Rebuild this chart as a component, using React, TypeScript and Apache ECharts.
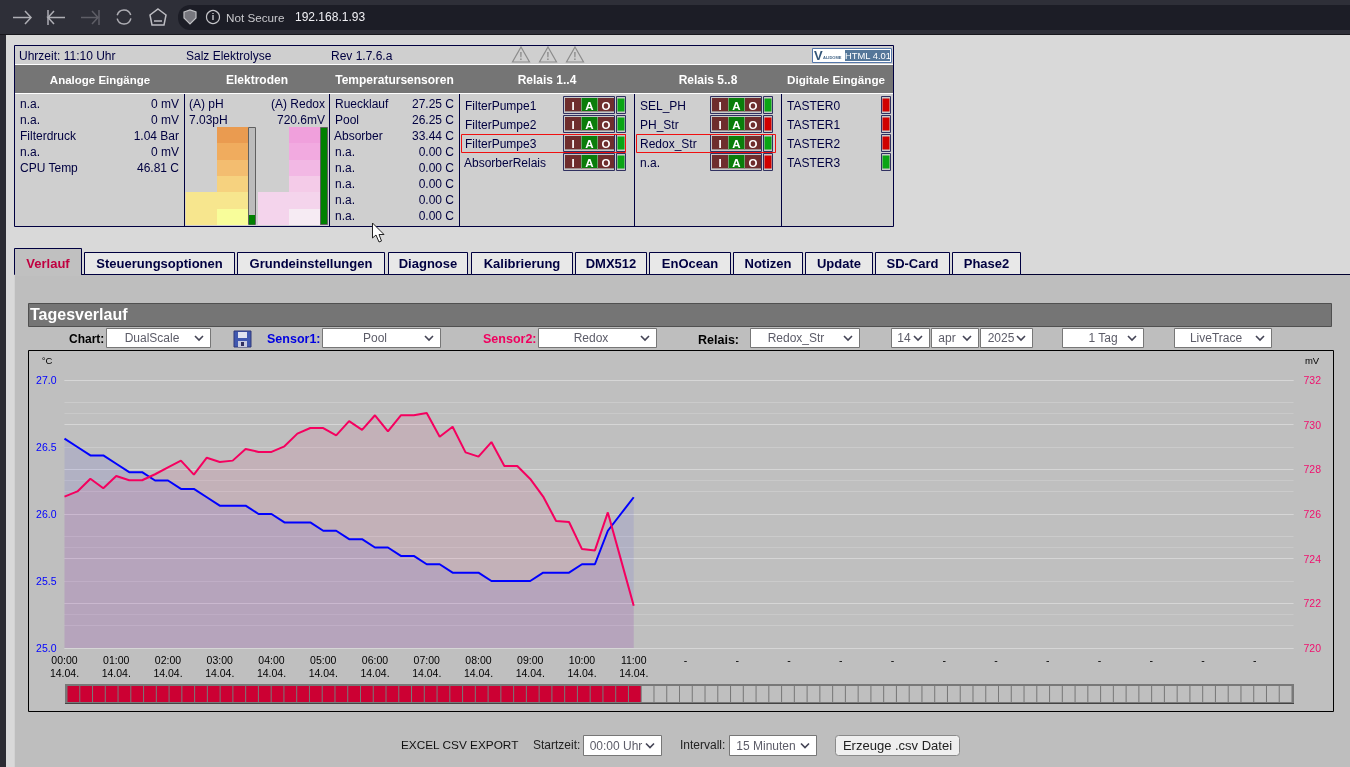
import React, { useEffect, useRef } from "react";
import * as echarts from "echarts";

// ---------- chart data ----------
const poolTemps = [
  26.5625, 26.5, 26.4375, 26.4375, 26.375, 26.3125, 26.3125, 26.25, 26.25, 26.1875, 26.1875, 26.125,
  26.0625, 26.0625, 26.0625, 26.0, 26.0, 25.9375, 25.9375, 25.9375, 25.875, 25.875, 25.8125, 25.8125,
  25.75, 25.75, 25.6875, 25.6875, 25.625, 25.625, 25.5625, 25.5625, 25.5625, 25.5, 25.5, 25.5, 25.5,
  25.5625, 25.5625, 25.5625, 25.625, 25.625, 25.875, 26.0, 26.125,
];
const redoxMv = [
  726.78, 727.01, 727.58, 727.15, 727.7, 727.51, 727.51, 727.78, 728.09, 728.39, 727.76, 728.52,
  728.33, 728.39, 728.91, 728.78, 728.78, 729.03, 729.6, 729.85, 729.85, 729.52, 730.16, 729.77,
  730.42, 729.7, 730.42, 730.42, 730.52, 729.46, 729.91, 728.76, 728.57, 729.22, 728.15, 728.15,
  727.57, 726.78, 725.69, 725.64, 724.43, 724.37, 726.07, 723.98, 721.89,
];
const relayStates = [
  1, 1, 1, 1, 1, 1, 1, 1, 1, 1, 1, 1, 1, 1, 1, 1, 1, 1, 1, 1, 1, 1, 1, 1, 1, 1, 1, 1, 1, 1, 1, 1, 1, 1, 1, 1, 1, 1, 1, 1, 1, 1, 1, 1, 1,
  0, 0, 0, 0, 0, 0, 0, 0, 0, 0, 0, 0, 0, 0, 0, 0, 0, 0, 0, 0, 0, 0, 0, 0, 0, 0, 0, 0, 0, 0, 0, 0, 0, 0, 0, 0, 0, 0, 0, 0, 0, 0, 0, 0, 0, 0, 0, 0, 0, 0, 0,
];
const quarterHours = Array.from({ length: 96 }, (_, i) => {
  const h = String(Math.floor(i / 4)).padStart(2, "0");
  const m = String((i % 4) * 15).padStart(2, "0");
  return `${h}:${m}`;
});
const lastLabelledIndex = 44;
const dateLabel = "14.04.";

// ---------- page texts ----------
const analogNames = ["n.a.", "n.a.", "Filterdruck", "n.a.", "CPU Temp"];
const analogValues = ["0 mV", "0 mV", "1.04 Bar", "0 mV", "46.81 C"];
const tempNames = ["Ruecklauf", "Pool", "Absorber", "n.a.", "n.a.", "n.a.", "n.a.", "n.a."];
const tempValues = ["27.25 C", "26.25 C", "33.44 C", "0.00 C", "0.00 C", "0.00 C", "0.00 C", "0.00 C"];
const relays1 = ["FilterPumpe1", "FilterPumpe2", "FilterPumpe3", "AbsorberRelais"];
const relays1Led = [1, 1, 1, 1];
const relays2 = ["SEL_PH", "PH_Str", "Redox_Str", "n.a."];
const relays2Led = [1, 0, 1, 0];
const digital = ["TASTER0", "TASTER1", "TASTER2", "TASTER3"];
const digitalLed = [0, 0, 0, 1];
const tabs = ["Verlauf", "Steuerungsoptionen", "Grundeinstellungen", "Diagnose", "Kalibrierung", "DMX512", "EnOcean", "Notizen", "Update", "SD-Card", "Phase2"];
const tabEdges = [[14, 82], [84, 235], [237, 385], [388, 468], [471, 573], [575, 647], [649, 731], [733, 803], [805, 873], [875, 950], [952, 1021]];

const SANS = '"Liberation Sans"';
const NAVY = "#000040";
const Z = -1;

const T = (text: string, x: number, y: number, fill: string, font: string, align = "left") => ({
  type: "text", z: Z, silent: true,
  style: { text, x, y, fill, font: `${font} ${SANS}`, textAlign: align, align, textVerticalAlign: "middle", verticalAlign: "middle" },
});
const R = (x: number, y: number, w: number, h: number, fill: string, stroke?: string, lw = 1, r = 0) => ({
  type: "rect", z: Z, silent: true, shape: { x, y, width: w, height: h, r },
  style: { fill, stroke: stroke || "none", lineWidth: lw },
});
const L = (pts: number[][], stroke: string, lw = 1.5) => ({
  type: "polyline", z: Z, silent: true, shape: { points: pts }, style: { stroke, lineWidth: lw, fill: "none" },
});
const P = (pts: number[][], fill: string, stroke?: string, lw = 1) => ({
  type: "polygon", z: Z, silent: true, shape: { points: pts }, style: { fill, stroke: stroke || "none", lineWidth: lw },
});
const C = (cx: number, cy: number, r: number, stroke: string, lw = 1.5, fill = "none") => ({
  type: "circle", z: Z, silent: true, shape: { cx, cy, r }, style: { stroke, lineWidth: lw, fill },
});

function select(x0: number, x1: number, y0: number, y1: number, text: string, cx: number) {
  const ay = (y0 + y1) / 2;
  const ax = x1 - 12;
  return [
    R(x0 + 0.5, y0 + 0.5, x1 - x0 - 1, y1 - y0 - 1, "#ffffff", "#777777"),
    T(text, cx, ay, "#5c5c68", "12px", "center"),
    L([[ax - 4, ay - 2], [ax, ay + 2], [ax + 4, ay - 2]], "#444455", 1.6),
  ];
}

function relayRow(frameX: number, ledX: number, top: number, led: number) {
  const out: any[] = [R(frameX + 0.5, top + 0.5, 51, 17, "#c8c8c8", "#303060")];
  const cells: [number, string, string][] = [[0, "#6e2d2d", "I"], [16.5, "#0a7d0a", "A"], [33, "#6e2d2d", "O"]];
  cells.forEach(([dx, col, label]) => {
    out.push(R(frameX + 2 + dx, top + 2, 16, 14, col));
    out.push(L([[frameX + 2 + dx, top + 15.5], [frameX + 18 + dx, top + 15.5]], "#a09090", 1));
    out.push(T(label, frameX + 10 + dx, top + 9.5, "#ffffff", "bold 11.5px", "center"));
  });
  out.push(R(ledX + 0.5, top + 0.5, 9, 17, "#c8c8c8", "#303060"));
  out.push(R(ledX + 1.5, top + 2.5, 7, 13, led ? "#0aa514" : "#d00000"));
  return out;
}

function buildPage(): any[] {
  const g: any[] = [];
  // page base
  g.push(R(0, 0, 1350, 767, "#d9d9d9"));
  g.push(R(0, 0, 6, 767, "#2b2b33"));
  g.push(R(14, 274, 1336, 493, "#bebebe"));
  g.push(L([[14, 274.5], [1350, 274.5]], "#000030", 1));
  g.push(L([[14.5, 274], [14.5, 767]], "#d2d2d2", 1));
  // browser bar
  g.push(R(0, 0, 1350, 34, "#2e2f38"));
  g.push(R(0, 34, 1350, 1, "#17171c"));
  g.push(R(178, 5, 1250, 25, "#1c1d26", undefined, 1, 12));
  g.push(L([[13, 17.5], [31, 17.5]], "#aeaeb4"), L([[25, 11], [31, 17.5], [25, 24]], "#aeaeb4"));
  g.push(L([[48, 10], [48, 25]], "#aeaeb4"), L([[54, 11], [48, 17.5], [54, 24], [48, 17.5], [65, 17.5]], "#aeaeb4"));
  g.push(L([[99, 10], [99, 25]], "#5e5e66"), L([[92, 11], [98, 17.5], [92, 24], [98, 17.5], [81, 17.5]], "#5e5e66"));
  g.push({ type: "arc", z: Z, silent: true, shape: { cx: 124, cy: 17, r: 7, startAngle: 0.2, endAngle: 2.9 }, style: { stroke: "#aeaeb4", lineWidth: 1.5, fill: "none" } });
  g.push({ type: "arc", z: Z, silent: true, shape: { cx: 124, cy: 17, r: 7, startAngle: 3.4, endAngle: 6.0 }, style: { stroke: "#aeaeb4", lineWidth: 1.5, fill: "none" } });
  g.push(P([[158, 9], [166, 15], [164, 25], [152, 25], [150, 15]], "none", "#bdbdc2", 1.5));
  g.push(L([[154, 21], [162, 21]], "#bdbdc2", 1.5));
  g.push(P([[184, 12], [190, 10], [196, 12], [196, 18], [190, 24], [184, 18]], "#77777e", "#c0c0c4", 1.2));
  g.push(C(213, 17, 6.5, "#c4c4c8", 1.2));
  g.push(T("i", 213, 17, "#d4d4d8", "bold 9px", "center"));
  g.push(T("Not Secure", 226, 17, "#c8c8cc", "11.7px"));
  g.push(T("192.168.1.93", 295, 17, "#f0f0f4", "12px"));

  // status panel
  g.push(R(14.5, 45.5, 879, 181, "#cfcfcf", NAVY));
  g.push(R(15, 65, 878, 28, "#757575"));
  g.push(R(15, 64, 878, 1, "#ffffff"), R(15, 93, 878, 1, "#ffffff"));
  [184.5, 329.5, 459.5, 634.5, 781.5].forEach((x) => g.push(L([[x, 94], [x, 226]], NAVY, 1)));
  g.push(T("Uhrzeit: 11:10 Uhr", 19, 56, NAVY, "12px"));
  g.push(T("Salz Elektrolyse", 186, 56, NAVY, "12px"));
  g.push(T("Rev 1.7.6.a", 331, 56, NAVY, "12px"));
  [521, 548, 575].forEach((x) => {
    g.push(P([[x, 47], [x + 8.5, 62], [x - 8.5, 62]], "none", "#8c8c8c", 1.2));
    g.push(T("!", x, 56, "#8c8c8c", "bold 10px", "center"));
  });
  g.push(R(812.5, 48.5, 79, 14, "#ffffff", "#5577aa"));
  g.push(R(845, 50, 45, 11, "#557799"));
  g.push(T("HTML 4.01", 868, 55.5, "#ffffff", "9.4px", "center"));
  g.push(T("V", 814, 55, "#335577", "bold 13px"));
  g.push(T("ALIDOME", 823, 57.5, "#446688", "bold 4px"));
  ([["Analoge Eingänge", 100, 11.5], ["Elektroden", 257, 12], ["Temperatursensoren", 394.5, 12], ["Relais 1..4", 547, 12], ["Relais 5..8", 708, 12], ["Digitale Eingänge", 836, 11.7]] as [string, number, number][])
    .forEach(([t, x, s]) => g.push(T(t, x, 79.5, "#ffffff", `bold ${s}px`, "center")));

  const rowY = (i: number) => 104 + i * 16;
  analogNames.forEach((t, i) => g.push(T(t, 20, rowY(i), NAVY, "12px")));
  analogValues.forEach((t, i) => g.push(T(t, 179, rowY(i), NAVY, "12px", "right")));
  tempNames.forEach((t, i) => g.push(T(t, i === 2 ? 334 : 335, rowY(i), NAVY, "12px")));
  tempValues.forEach((t, i) => g.push(T(t, 454, rowY(i), NAVY, "12px", "right")));
  g.push(T("(A) pH", 189, 104, NAVY, "12px"), T("7.03pH", 189, 120, NAVY, "12px"));
  g.push(T("(A) Redox", 325, 104, NAVY, "12px", "right"), T("720.6mV", 325, 120, NAVY, "12px", "right"));

  // electrode level blocks
  const stepY = [127, 143, 160, 176, 192, 209, 225];
  const phCols = ["#ea9b50", "#f0ac5e", "#f3bd70", "#f6d27f", "#f7e68e", "#f8fd9a"];
  const rxCols = ["#f0a0dc", "#f2aae0", "#f2b8e4", "#f4cbe8", "#f4d4ec", "#f6ebf3"];
  phCols.forEach((c, i) => g.push(R(217, stepY[i], 31.5, stepY[i + 1] - stepY[i], c)));
  g.push(R(185.5, 192, 31.5, 33, "#f7e68e"));
  rxCols.forEach((c, i) => g.push(R(289, stepY[i], 31, stepY[i + 1] - stepY[i], c)));
  g.push(R(258, 192, 31, 33, "#f4d4ec"));
  g.push(R(248.5, 127.5, 7, 97, "#bcbcbc", "#606060"));
  g.push(R(249, 215, 6, 9.5, "#008000"));
  g.push(R(320.5, 127.5, 7, 97, "#008000", "#606060"));

  // relays
  const tops = [96, 115, 134, 153];
  relays1.forEach((t, i) => {
    g.push(T(t, i === 3 ? 464 : 465, tops[i] + 10, NAVY, "12px"));
    g.push(...relayRow(563, 616, tops[i], relays1Led[i]));
  });
  relays2.forEach((t, i) => {
    g.push(T(t, 640, tops[i] + 10, NAVY, "12px"));
    g.push(...relayRow(710, 763, tops[i], relays2Led[i]));
  });
  digital.forEach((t, i) => {
    g.push(T(t, 787, tops[i] + 10, NAVY, "12px"));
    g.push(R(881.5, tops[i] + 0.5, 9, 17, "#c8c8c8", "#303060"));
    g.push(R(882.5, tops[i] + 2.5, 7, 13, digitalLed[i] ? "#0aa514" : "#d00000"));
  });
  g.push(R(461.5, 134.5, 164, 18, "none", "#f01010"));
  g.push(R(636.5, 134.5, 139, 18, "none", "#f01010"));
  // mouse pointer
  g.push(P([[372.5, 223], [372.5, 238], [376, 235], [379, 242], [381.5, 241], [379, 234.5], [384, 234.5]], "#ffffff", "#222222", 1));

  // tabs
  tabs.forEach((t, i) => {
    const [a, b] = tabEdges[i];
    const active = i === 0;
    const top = active ? 248 : 252;
    g.push(R(a + 0.5, top + 0.5, b - a - 1, 274 - top, active ? "#c0c0c0" : "#e8e8e8", NAVY));
    g.push(T(t, (a + b) / 2, 263.5, active ? "#c00040" : NAVY, "bold 13px", "center"));
  });
  g.push(R(15, 274, 66, 2, "#c0c0c0"));

  // title bar
  g.push(R(28.5, 303.5, 1303, 23, "#757575", "#505050"));
  g.push(T("Tagesverlauf", 30, 314, "#ffffff", "bold 16px"));

  // controls
  g.push(T("Chart:", 69, 339, "#000000", "bold 12px"));
  g.push(...select(106, 211, 328, 348, "DualScale", 152));
  g.push(R(234, 331, 17, 16, "#4058b0", "#303878"), R(238, 332, 9, 6, "#dfe2f0"), R(238, 341, 9, 6, "#c8cce0"), R(241, 342, 3, 4, "#303060"));
  g.push(T("Sensor1:", 267, 339, "#0000e0", "bold 12.5px"));
  g.push(...select(322, 441, 328, 348, "Pool", 375));
  g.push(T("Sensor2:", 483, 339, "#f0005f", "bold 12.5px"));
  g.push(...select(538, 657, 328, 348, "Redox", 591));
  g.push(T("Relais:", 698, 339.5, "#000000", "bold 12.5px"));
  g.push(...select(750, 860, 328, 348, "Redox_Str", 796));
  g.push(...select(891, 930, 328, 348, "14", 904));
  g.push(...select(931, 979, 328, 348, "apr", 947));
  g.push(...select(980, 1033, 328, 348, "2025", 1001));
  g.push(...select(1062, 1144, 328, 348, "1 Tag", 1103));
  g.push(...select(1174, 1272, 328, 348, "LiveTrace", 1216));

  // chart frame
  g.push(R(28.5, 350.5, 1305, 361, "#bfbfbf", "#000000"));
  g.push(T("°C", 47, 360, "#000000", "9.5px", "center"));
  g.push(T("mV", 1312, 360, "#000000", "9.5px", "center"));
  g.push(R(65, 684, 1229, 20, "#787878"));
  g.push(L([[65, 703.5], [1294, 703.5]], "#444444", 1));

  // export row
  g.push(T("EXCEL CSV EXPORT", 401, 745, "#111111", "11.8px"));
  g.push(T("Startzeit:", 533, 745, "#222222", "12px"));
  g.push(...select(583, 662, 735, 756, "00:00 Uhr", 616));
  g.push(T("Intervall:", 680, 745, "#222222", "12px"));
  g.push(...select(729, 817, 735, 756, "15 Minuten", 766));
  g.push(R(835.5, 735.5, 124, 20, "#efefef", "#8a8a8a", 1, 3));
  g.push(T("Erzeuge .csv Datei", 897.5, 745, "#222222", "13px", "center"));
  return g;
}

export default function App() {
  const ref = useRef<HTMLDivElement>(null);
  useEffect(() => {
    const chart = echarts.init(ref.current!, undefined, { renderer: "svg" });
    chart.setOption({
      animation: false,
      backgroundColor: "transparent",
      textStyle: { fontFamily: SANS },
      graphic: { elements: buildPage() },
      grid: [
        { left: 64.5, width: 1229, top: 380, height: 268 },
        { left: 67, width: 1225, top: 686, height: 16 },
      ],
      xAxis: [
        {
          type: "category", gridIndex: 0, data: quarterHours, boundaryGap: false,
          axisLine: { show: false }, axisTick: { show: false }, splitLine: { show: false },
          axisLabel: {
            interval: 3, margin: 5, color: "#000000", fontSize: 10.5, lineHeight: 13,
            hideOverlap: false,
            formatter: (v: string, i: number) => (i <= lastLabelledIndex ? `${v}\n${dateLabel}` : "-"),
          },
        },
        { type: "category", gridIndex: 1, data: quarterHours, show: false },
      ],
      yAxis: [
        {
          type: "value", gridIndex: 0, min: 25, max: 27, interval: 0.5, position: "left",
          axisLine: { show: false }, axisTick: { show: false },
          axisLabel: { color: "#0000ff", fontSize: 10.5, margin: 8, formatter: (v: number) => v.toFixed(1) },
          splitLine: { show: true, lineStyle: { color: "#cbcbcb", width: 1 } },
          minorTick: { show: false, splitNumber: 2 },
          minorSplitLine: { show: true, lineStyle: { color: "#c9c9c9", width: 1 } },
        },
        {
          type: "value", gridIndex: 0, min: 720, max: 732, interval: 2, position: "right",
          axisLine: { show: false }, axisTick: { show: false },
          axisLabel: { color: "#f0106e", fontSize: 10.5, margin: 10 },
          splitLine: { show: true, lineStyle: { color: "#d6d6d6", width: 1 } },
          minorTick: { show: false, splitNumber: 2 },
          minorSplitLine: { show: true, lineStyle: { color: "#cbcbcb", width: 1 } },
        },
        { type: "value", gridIndex: 1, min: 0, max: 1, show: false },
      ],
      series: [
        {
          type: "line", name: "Pool", xAxisIndex: 0, yAxisIndex: 0, data: poolTemps,
          showSymbol: false, lineStyle: { color: "#0000ff", width: 2 }, itemStyle: { color: "#0000ff" },
          areaStyle: { color: "rgba(0,0,255,0.1)" },
        },
        {
          type: "line", name: "Redox", xAxisIndex: 0, yAxisIndex: 1, data: redoxMv,
          showSymbol: false, lineStyle: { color: "#f5005f", width: 2 }, itemStyle: { color: "#f5005f" },
          areaStyle: { color: "rgba(255,0,100,0.1)" },
        },
        {
          type: "bar", name: "Relais", xAxisIndex: 1, yAxisIndex: 2, barCategoryGap: "8%",
          data: relayStates.map((s) => ({ value: 1, itemStyle: { color: s ? "#cc0033" : "#bfbfbf" } })),
        },
      ],
    });
    return () => chart.dispose();
  }, []);
  return <div ref={ref} style={{ position: "fixed", left: 0, top: 0, width: 1350, height: 767 }} />;
}
